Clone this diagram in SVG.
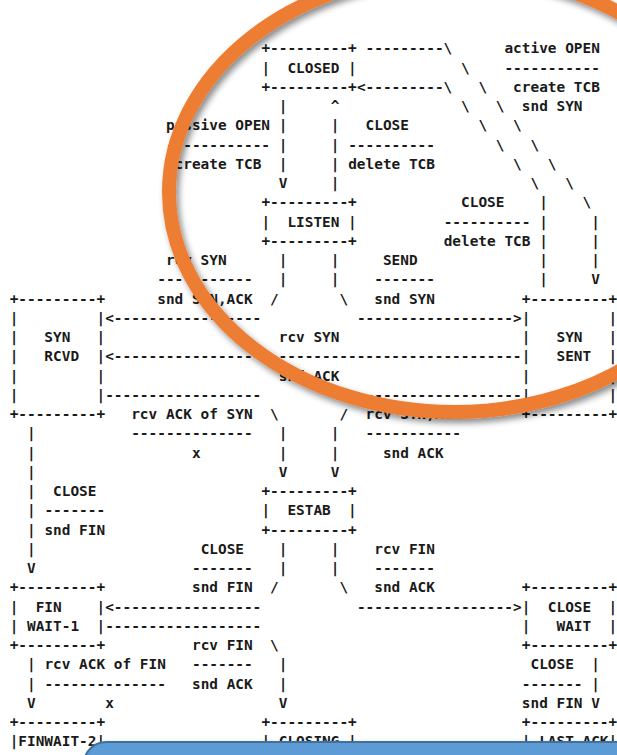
<svg xmlns="http://www.w3.org/2000/svg" width="617" height="755" viewBox="0 0 617 755">
<style>
text{font-family:"DejaVu Sans Mono","Liberation Mono",monospace;font-size:14.42px;font-weight:bold;fill:#1a1a1a;white-space:pre}
</style>
<defs>
<filter id="sh" x="-20%" y="-20%" width="140%" height="140%">
<feDropShadow dx="3" dy="4" stdDeviation="3" flood-color="#000" flood-opacity="0.45"/>
</filter>
</defs>
<rect width="617" height="755" fill="#fff"/>
<g id="closed">
<text x="261.4" y="53.3">+---------+</text>
<text x="261.4" y="72.55">|  CLOSED |</text>
<text x="261.4" y="91.8">+---------+</text>
</g>
<g id="listen">
<text x="261.4" y="207.3">+---------+</text>
<text x="261.4" y="226.55">|  LISTEN |</text>
<text x="261.4" y="245.8">+---------+</text>
</g>
<g id="syn-rcvd">
<text x="9.68" y="303.55">+---------+</text>
<text x="9.68" y="322.8">|         |</text>
<text x="9.68" y="342.05">|   SYN   |</text>
<text x="9.68" y="361.3">|   RCVD  |</text>
<text x="9.68" y="380.55">|         |</text>
<text x="9.68" y="399.8">|         |</text>
<text x="9.68" y="419.05">+---------+</text>
</g>
<g id="syn-sent">
<text x="521.8" y="303.55">+---------+</text>
<text x="521.8" y="322.8">|         |</text>
<text x="521.8" y="342.05">|   SYN   |</text>
<text x="521.8" y="361.3">|   SENT  |</text>
<text x="521.8" y="380.55">|         |</text>
<text x="521.8" y="399.8">|         |</text>
<text x="521.8" y="419.05">+---------+</text>
</g>
<g id="estab">
<text x="261.4" y="496.05">+---------+</text>
<text x="261.4" y="515.3">|  ESTAB  |</text>
<text x="261.4" y="534.55">+---------+</text>
</g>
<g id="fin-wait-1">
<text x="9.68" y="592.3">+---------+</text>
<text x="9.68" y="611.55">|  FIN    |</text>
<text x="9.68" y="630.8">| WAIT-1  |</text>
<text x="9.68" y="650.05">+---------+</text>
</g>
<g id="close-wait">
<text x="521.8" y="592.3">+---------+</text>
<text x="521.8" y="611.55">|  CLOSE  |</text>
<text x="521.8" y="630.8">|   WAIT  |</text>
<text x="521.8" y="650.05">+---------+</text>
</g>
<g id="fin-wait-2">
<text x="9.68" y="727.05">+---------+</text>
<text x="9.68" y="746.3">|FINWAIT-2|</text>
</g>
<g id="closing">
<text x="261.4" y="727.05">+---------+</text>
<text x="261.4" y="746.3">| CLOSING |</text>
</g>
<g id="last-ack">
<text x="521.8" y="727.05">+---------+</text>
<text x="521.8" y="746.3">| LAST-ACK|</text>
</g>
<g id="connectors">
<text x="365.56" y="53.3">---------\</text>
<text x="504.44" y="53.3">active OPEN</text>
<text x="461.04" y="72.55">\</text>
<text x="504.44" y="72.55">-----------</text>
<text x="356.88" y="91.8">&lt;---------\</text>
<text x="478.4" y="91.8">\</text>
<text x="513.12" y="91.8">create TCB</text>
<text x="278.76" y="111.05">|</text>
<text x="330.84" y="111.05">^</text>
<text x="461.04" y="111.05">\</text>
<text x="495.76" y="111.05">\</text>
<text x="521.8" y="111.05">snd SYN</text>
<text x="165.92" y="130.3">passive OPEN</text>
<text x="278.76" y="130.3">|</text>
<text x="330.84" y="130.3">|</text>
<text x="365.56" y="130.3">CLOSE</text>
<text x="478.4" y="130.3">\</text>
<text x="513.12" y="130.3">\</text>
<text x="165.92" y="149.55">------------</text>
<text x="278.76" y="149.55">|</text>
<text x="330.84" y="149.55">|</text>
<text x="348.2" y="149.55">----------</text>
<text x="495.76" y="149.55">\</text>
<text x="530.48" y="149.55">\</text>
<text x="174.6" y="168.8">create TCB</text>
<text x="278.76" y="168.8">|</text>
<text x="330.84" y="168.8">|</text>
<text x="348.2" y="168.8">delete TCB</text>
<text x="513.12" y="168.8">\</text>
<text x="547.84" y="168.8">\</text>
<text x="278.76" y="188.05">V</text>
<text x="330.84" y="188.05">|</text>
<text x="530.48" y="188.05">\</text>
<text x="565.2" y="188.05">\</text>
<text x="461.04" y="207.3">CLOSE</text>
<text x="539.16" y="207.3">|</text>
<text x="582.56" y="207.3">\</text>
<text x="443.68" y="226.55">----------</text>
<text x="539.16" y="226.55">|</text>
<text x="591.24" y="226.55">|</text>
<text x="443.68" y="245.8">delete TCB</text>
<text x="539.16" y="245.8">|</text>
<text x="591.24" y="245.8">|</text>
<text x="165.92" y="265.05">rcv SYN</text>
<text x="278.76" y="265.05">|</text>
<text x="330.84" y="265.05">|</text>
<text x="382.92" y="265.05">SEND</text>
<text x="539.16" y="265.05">|</text>
<text x="591.24" y="265.05">|</text>
<text x="157.24" y="284.3">-----------</text>
<text x="278.76" y="284.3">|</text>
<text x="330.84" y="284.3">|</text>
<text x="374.24" y="284.3">-------</text>
<text x="539.16" y="284.3">|</text>
<text x="591.24" y="284.3">V</text>
<text x="157.24" y="303.55">snd SYN,ACK</text>
<text x="270.08" y="303.55">/</text>
<text x="339.52" y="303.55">\</text>
<text x="374.24" y="303.55">snd SYN</text>
<text x="105.16" y="322.8">&lt;-----------------</text>
<text x="356.88" y="322.8">------------------&gt;</text>
<text x="278.76" y="342.05">rcv SYN</text>
<text x="105.16" y="361.3">&lt;-----------------------------------------------</text>
<text x="278.76" y="380.55">snd ACK</text>
<text x="105.16" y="399.8">------------------</text>
<text x="356.88" y="399.8">-------------------</text>
<text x="131.2" y="419.05">rcv ACK of SYN</text>
<text x="270.08" y="419.05">\</text>
<text x="339.52" y="419.05">/</text>
<text x="365.56" y="419.05">rcv SYN,ACK</text>
<text x="27.04" y="438.3">|</text>
<text x="131.2" y="438.3">--------------</text>
<text x="278.76" y="438.3">|</text>
<text x="330.84" y="438.3">|</text>
<text x="365.56" y="438.3">-----------</text>
<text x="27.04" y="457.55">|</text>
<text x="191.96" y="457.55">x</text>
<text x="278.76" y="457.55">|</text>
<text x="330.84" y="457.55">|</text>
<text x="382.92" y="457.55">snd ACK</text>
<text x="27.04" y="476.8">|</text>
<text x="278.76" y="476.8">V</text>
<text x="330.84" y="476.8">V</text>
<text x="27.04" y="496.05">|</text>
<text x="53.08" y="496.05">CLOSE</text>
<text x="27.04" y="515.3">|</text>
<text x="44.4" y="515.3">-------</text>
<text x="27.04" y="534.55">|</text>
<text x="44.4" y="534.55">snd FIN</text>
<text x="27.04" y="553.8">|</text>
<text x="200.64" y="553.8">CLOSE</text>
<text x="278.76" y="553.8">|</text>
<text x="330.84" y="553.8">|</text>
<text x="374.24" y="553.8">rcv FIN</text>
<text x="27.04" y="573.05">V</text>
<text x="191.96" y="573.05">-------</text>
<text x="278.76" y="573.05">|</text>
<text x="330.84" y="573.05">|</text>
<text x="374.24" y="573.05">-------</text>
<text x="191.96" y="592.3">snd FIN</text>
<text x="270.08" y="592.3">/</text>
<text x="339.52" y="592.3">\</text>
<text x="374.24" y="592.3">snd ACK</text>
<text x="105.16" y="611.55">&lt;-----------------</text>
<text x="356.88" y="611.55">------------------&gt;</text>
<text x="105.16" y="630.8">------------------</text>
<text x="191.96" y="650.05">rcv FIN</text>
<text x="270.08" y="650.05">\</text>
<text x="27.04" y="669.3">|</text>
<text x="44.4" y="669.3">rcv ACK of FIN</text>
<text x="191.96" y="669.3">-------</text>
<text x="278.76" y="669.3">|</text>
<text x="530.48" y="669.3">CLOSE</text>
<text x="591.24" y="669.3">|</text>
<text x="27.04" y="688.55">|</text>
<text x="44.4" y="688.55">--------------</text>
<text x="191.96" y="688.55">snd ACK</text>
<text x="278.76" y="688.55">|</text>
<text x="521.8" y="688.55">-------</text>
<text x="591.24" y="688.55">|</text>
<text x="27.04" y="707.8">V</text>
<text x="105.16" y="707.8">x</text>
<text x="278.76" y="707.8">V</text>
<text x="521.8" y="707.8">snd FIN</text>
<text x="591.24" y="707.8">V</text>
</g>
<ellipse cx="454" cy="192" rx="285" ry="220" fill="none" stroke="#ED7D31" stroke-width="14" filter="url(#sh)"/>
<rect x="84" y="742" width="600" height="60" rx="22" fill="#5B9BD5" stroke="#41719C" stroke-width="2" filter="url(#sh)"/>
</svg>
